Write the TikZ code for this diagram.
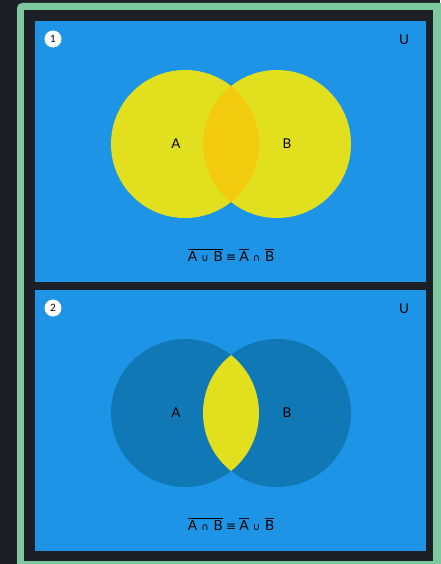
\documentclass[tikz,border=0pt]{standalone}
\usepackage{fontspec}
\setmainfont{Lato}
\newfontfamily\symf{DejaVu Sans}
\definecolor{bgdark}{HTML}{1C1F26}
\definecolor{bord}{HTML}{7EC8A0}
\definecolor{panel}{HTML}{1E94E6}
\definecolor{yel}{HTML}{E2E01E}
\definecolor{inter}{HTML}{F2CB0E}
\definecolor{darkc}{HTML}{0F78B5}
\newcommand{\ovl}[1]{$\overline{\hbox{#1}}$}
\newcommand{\cupS}{\hspace{4pt}{\symf\fontsize{10}{12}\selectfont ∪}\hspace{5pt}}
\newcommand{\capS}{\hspace{4pt}{\symf\fontsize{10}{12}\selectfont ∩}\hspace{5pt}}
\newcommand{\eqS}{\hspace{3.5pt}{\symf\fontsize{12}{14}\selectfont ≡}\hspace{3pt}}
\tikzset{
  lbl/.style={font=\fontsize{13.5}{15}\selectfont, text=black, inner sep=0pt},
  formula/.style={font=\fontsize{14}{16}\selectfont, text=black, inner sep=0pt},
  num/.style={circle, fill=white, minimum size=17pt, inner sep=0pt, font=\fontsize{10}{12}\selectfont, text=black}
}
\begin{document}
\begin{tikzpicture}[x=1pt,y=-1pt]
\useasboundingbox (0,0) rectangle (440,564);
\fill[bgdark] (0,0) rectangle (440,564);
\fill[bord, rounded corners=5pt] (17,3) rectangle (450,574);
\fill[bgdark] (24,10) rectangle (433,561);
% panel 1
\fill[panel] (35,21) rectangle (426,282);
\fill[yel] (185,144) circle[radius=74pt];
\fill[yel] (277,144) circle[radius=74pt];
\begin{scope}
  \clip (185,144) circle[radius=74pt];
  \fill[inter] (277,144) circle[radius=74pt];
\end{scope}
\node[num] (n1) at (53,39) {1};
\node[lbl] (u1) at (404,40) {U};
\node[lbl] (a1) at (176,144) {A};
\node[lbl] (b1) at (287,144) {B};
\node[formula] (f1) at (231,255) {\ovl{A\cupS B}\eqS\ovl{A}\capS\ovl{B}};
% panel 2
\fill[panel] (35,290) rectangle (426,551);
\fill[darkc] (185,413) circle[radius=74pt];
\fill[darkc] (277,413) circle[radius=74pt];
\begin{scope}
  \clip (185,413) circle[radius=74pt];
  \fill[yel] (277,413) circle[radius=74pt];
\end{scope}
\node[num] (n2) at (53,308) {2};
\node[lbl] (u2) at (404,309) {U};
\node[lbl] (a2) at (176,413) {A};
\node[lbl] (b2) at (287,413) {B};
\node[formula] (f2) at (231,524) {\ovl{A\capS B}\eqS\ovl{A}\cupS\ovl{B}};
\end{tikzpicture}
\end{document}
